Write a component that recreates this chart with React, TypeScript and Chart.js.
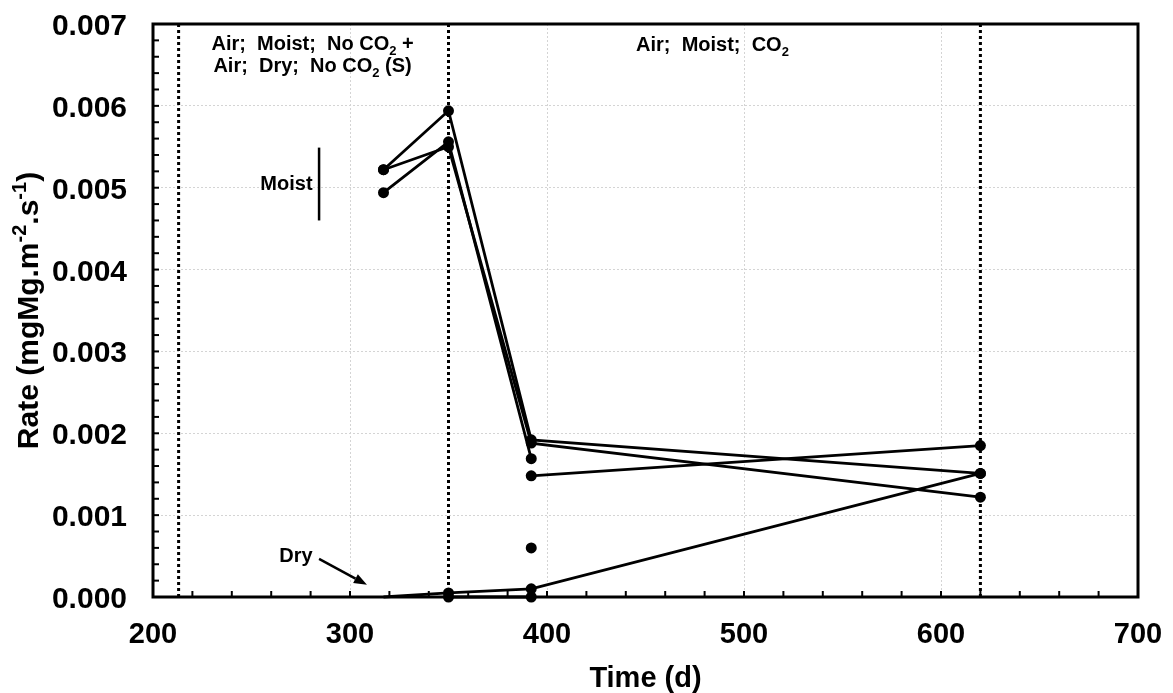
import React, { useEffect, useRef } from 'react';
import { Chart, registerables } from 'chart.js';

Chart.register(...registerables);

// ---- data ----
const sampleTimes = [317, 350, 392, 620];
const moistA = [0.00522, 0.00594, 0.00192, 0.00151];
const moistB = [0.00522, 0.0055, 0.00188, 0.00122];
const moistCTimes = [317, 350, 392];
const moistC = [0.00494, 0.00556, 0.00169];
const moistDTimes = [392, 620];
const moistD = [0.00148, 0.00185];
const dryATimes = [317, 350, 392, 620];
const dryA = [0.0, 0.00005, 0.0001, 0.00151];
const dryBTimes = [350, 392];
const dryB = [0.0, 0.0];
const isolatedTimes = [392];
const isolated = [0.0006];
const phaseBoundaries = [213, 350, 620];

const xTickValues = [200, 300, 400, 500, 600, 700];
const xTickLabels = ['200', '300', '400', '500', '600', '700'];
const yTickValues = [0, 0.001, 0.002, 0.003, 0.004, 0.005, 0.006, 0.007];
const yTickLabels = ['0.000', '0.001', '0.002', '0.003', '0.004', '0.005', '0.006', '0.007'];

const X_MIN = 200, X_MAX = 700, X_MINOR = 20;
const Y_MIN = 0, Y_MAX = 0.007, Y_MINOR = 0.0002;

const FONT = '"Liberation Sans", Arial, sans-serif';

type Part = { t: string; sub?: boolean; sup?: boolean };

function drawRich(ctx: CanvasRenderingContext2D, parts: Part[], x: number, y: number, size: number, align: 'left' | 'center' | 'right') {
  const fontFor = (p: Part) => `bold ${p.sub || p.sup ? Math.round(size * 0.66) : size}px ${FONT}`;
  const widths = parts.map((p) => {
    ctx.font = fontFor(p);
    return ctx.measureText(p.t).width;
  });
  const total = widths.reduce((a, b) => a + b, 0);
  let cx = align === 'center' ? x - total / 2 : align === 'right' ? x - total : x;
  ctx.textAlign = 'left';
  ctx.textBaseline = 'alphabetic';
  parts.forEach((p, i) => {
    ctx.font = fontFor(p);
    const dy = p.sub ? size * 0.25 : p.sup ? -size * 0.4 : 0;
    ctx.fillText(p.t, cx, y + dy);
    cx += widths[i];
  });
}

const decor = {
  id: 'decor',
  beforeDatasetsDraw(chart: any) {
    const { ctx, chartArea: ca, scales } = chart;
    const xs = scales.x, ys = scales.y;
    ctx.save();
    ctx.strokeStyle = '#000';
    ctx.lineWidth = 2;
    const tickLen = 6;
    for (let v = X_MIN; v <= X_MAX + 1e-9; v += X_MINOR) {
      const px = xs.getPixelForValue(v);
      ctx.beginPath();
      ctx.moveTo(px, ca.bottom);
      ctx.lineTo(px, ca.bottom - tickLen);
      ctx.stroke();
    }
    for (let i = 0; i <= Math.round((Y_MAX - Y_MIN) / Y_MINOR); i++) {
      const py = ys.getPixelForValue(Y_MIN + i * Y_MINOR);
      ctx.beginPath();
      ctx.moveTo(ca.left, py);
      ctx.lineTo(ca.left + tickLen, py);
      ctx.stroke();
    }
    ctx.lineWidth = 3;
    ctx.strokeRect(ca.left, ca.top, ca.right - ca.left, ca.bottom - ca.top);
    ctx.restore();
  },
  afterDraw(chart: any) {
    const { ctx, chartArea: ca, scales } = chart;
    const xs = scales.x, ys = scales.y;
    ctx.save();
    ctx.fillStyle = '#000';
    ctx.strokeStyle = '#000';

    // tick labels
    ctx.font = `bold 29px ${FONT}`;
    ctx.textAlign = 'center';
    ctx.textBaseline = 'alphabetic';
    xTickValues.forEach((v, i) => {
      ctx.fillText(xTickLabels[i], xs.getPixelForValue(v), ca.bottom + 46);
    });
    ctx.font = `bold 30px ${FONT}`;
    ctx.textAlign = 'right';
    yTickValues.forEach((v, i) => {
      ctx.fillText(yTickLabels[i], ca.left - 26, ys.getPixelForValue(v) + 11);
    });

    // axis titles
    drawRich(ctx, [{ t: 'Time (d)' }], (ca.left + ca.right) / 2, 687, 29, 'center');
    ctx.save();
    ctx.translate(38, (ca.top + ca.bottom) / 2);
    ctx.rotate(-Math.PI / 2);
    drawRich(ctx, [{ t: 'Rate (mgMg.m' }, { t: '-2', sup: true }, { t: '.s' }, { t: '-1', sup: true }, { t: ')' }], 0, 0, 30, 'center');
    ctx.restore();

    // phase annotations
    const s = 20;
    drawRich(ctx, [{ t: 'Air;  Moist;  No CO' }, { t: '2', sub: true }, { t: ' +' }], xs.getPixelForValue(281), 50, s, 'center');
    drawRich(ctx, [{ t: 'Air;  Dry;  No CO' }, { t: '2', sub: true }, { t: ' (S)' }], xs.getPixelForValue(281), 72, s, 'center');
    drawRich(ctx, [{ t: 'Air;  Moist;  CO' }, { t: '2', sub: true }], xs.getPixelForValue(484), 51, s, 'center');

    // Moist bracket
    drawRich(ctx, [{ t: 'Moist' }], xs.getPixelForValue(281), ys.getPixelForValue(0.00497), s, 'right');
    ctx.lineWidth = 2.5;
    ctx.beginPath();
    const bx = xs.getPixelForValue(284.3);
    ctx.moveTo(bx, ys.getPixelForValue(0.00549));
    ctx.lineTo(bx, ys.getPixelForValue(0.0046));
    ctx.stroke();

    // Dry arrow
    drawRich(ctx, [{ t: 'Dry' }], xs.getPixelForValue(281), ys.getPixelForValue(0.00043), s, 'right');
    const ax0 = xs.getPixelForValue(284.3), ay0 = ys.getPixelForValue(0.000465);
    const ax1 = xs.getPixelForValue(308.6), ay1 = ys.getPixelForValue(0.00015);
    const ang = Math.atan2(ay1 - ay0, ax1 - ax0);
    const hl = 13, hw = 5;
    const bxA = ax1 - hl * Math.cos(ang), byA = ay1 - hl * Math.sin(ang);
    ctx.lineWidth = 2.5;
    ctx.beginPath();
    ctx.moveTo(ax0, ay0);
    ctx.lineTo(bxA, byA);
    ctx.stroke();
    ctx.beginPath();
    ctx.moveTo(ax1, ay1);
    ctx.lineTo(bxA + hw * Math.sin(ang), byA - hw * Math.cos(ang));
    ctx.lineTo(bxA - hw * Math.sin(ang), byA + hw * Math.cos(ang));
    ctx.closePath();
    ctx.fill();
    ctx.restore();
  },
};

const toPts = (xs: number[], ys: number[]) => ys.map((v, i) => ({ x: xs[i], y: v }));

export default function App() {
  const ref = useRef<HTMLCanvasElement | null>(null);
  useEffect(() => {
    if (!ref.current) return;
    const seriesStyle = {
      showLine: true,
      borderColor: '#000',
      borderWidth: 2.8,
      pointBackgroundColor: '#000',
      pointBorderColor: '#000',
      pointBorderWidth: 0,
      pointRadius: 5.5,
      clip: false as any,
      order: 1,
    };
    const boundaryDatasets = phaseBoundaries.map((b) => ({
      data: [{ x: b, y: Y_MIN }, { x: b, y: Y_MAX }],
      showLine: true,
      borderColor: '#000',
      borderWidth: 3,
      borderDash: [3, 3],
      pointRadius: 0,
      order: 5,
    }));
    const chart = new Chart(ref.current, {
      type: 'scatter',
      data: {
        datasets: [
          { ...seriesStyle, data: toPts(sampleTimes, moistA) },
          { ...seriesStyle, data: toPts(sampleTimes, moistB) },
          { ...seriesStyle, data: toPts(moistCTimes, moistC) },
          { ...seriesStyle, data: toPts(moistDTimes, moistD) },
          { ...seriesStyle, data: toPts(dryATimes, dryA), pointRadius: [0, 5.5, 5.5, 5.5] },
          { ...seriesStyle, data: toPts(dryBTimes, dryB) },
          { ...seriesStyle, showLine: false, data: toPts(isolatedTimes, isolated) },
          ...boundaryDatasets,
        ] as any,
      },
      options: {
        responsive: false,
        animation: false,
        devicePixelRatio: 1,
        layout: { padding: { top: 24, right: 35, left: 0, bottom: 0 } },
        plugins: { legend: { display: false }, tooltip: { enabled: false } },
        scales: {
          x: {
            type: 'linear',
            min: X_MIN,
            max: X_MAX,
            afterBuildTicks: (s: any) => { s.ticks = xTickValues.map((v) => ({ value: v })); },
            afterFit: (s: any) => { s.height = 96; },
            ticks: { display: false },
            grid: { color: '#d4d4d4', lineWidth: 1, drawTicks: false },
            border: { display: false, dash: [2, 2] },
          },
          y: {
            type: 'linear',
            min: Y_MIN,
            max: Y_MAX,
            afterBuildTicks: (s: any) => { s.ticks = yTickValues.map((v) => ({ value: v })); },
            afterFit: (s: any) => { s.width = 153; },
            ticks: { display: false },
            grid: { color: '#d4d4d4', lineWidth: 1, drawTicks: false },
            border: { display: false, dash: [2, 2] },
          },
        },
      },
      plugins: [decor],
    });
    return () => chart.destroy();
  }, []);
  return (
    <div style={{ position: 'fixed', left: 0, top: 0, width: 1173, height: 693, background: '#fff' }}>
      <canvas ref={ref} width={1173} height={693} style={{ width: 1173, height: 693 }} />
    </div>
  );
}
